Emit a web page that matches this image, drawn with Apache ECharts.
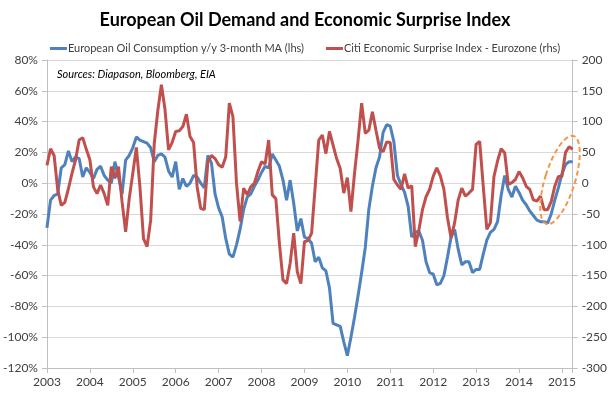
<!DOCTYPE html>
<html>
<head>
<meta charset="utf-8">
<script src="https://cdn.jsdelivr.net/npm/echarts@6/dist/echarts.min.js"></script>
<style>
  html, body { margin: 0; padding: 0; background: #fff; }
  #chart { width: 610px; height: 399px; }
</style>
</head>
<body>
<div id="chart"></div>
<script>
// monthly data, Jan 2003 .. Apr 2015
const startYear = 2003;
const yearTicks = [2003, 2004, 2005, 2006, 2007, 2008, 2009, 2010, 2011, 2012, 2013, 2014, 2015];

// European Oil Consumption y/y 3-month MA (%), left axis
const oilDemand = [
  -29, -11, -8, -7, 10, 12, 21, 14, 17, 16, 4, 10,
  7, 3, 9, 11, 5, 2, 0, 14, 4, -7, 15, 18,
  23, 30, 28, 27, 26, 23, 14, 18, 19, 17, 8, 4,
  14, -4, 3, -2, 0, 5, 4, 0, -3, 18, 13, -7,
  -16, -22, -36, -46, -48, -40, -30, -17, -9, -7, -2, 2,
  7, 11, 10, 19, 15, 11, 2, -11, 2, -13, -31, -23,
  -35, -36, -39, -51, -48, -55, -57, -68, -91, -92, -93, -103,
  -112, -100, -87, -73, -58, -42, -17, -2, 10, 17, 33, 38,
  37, 27, 5, -1, -6, -15, -35, -32, -31, -37, -51, -58,
  -59, -66, -65, -60, -48, -35, -30, -43, -53, -51, -51, -58,
  -56, -56, -46, -37, -32, -30, -25, -8, 5, -4, -9, -2,
  -6, -11, -14, -18, -21, -24, -25, -25, -26, -20, -11, -3,
  6, 12, 14, 14
];

// Citi Economic Surprise Index - Eurozone, right axis
const surprise = [
  29, 56, 45, -10, -36, -31, -9, 16, 38, 70, 74, 55,
  38, -6, -17, -3, -17, -36, 27, 8, 27, -30, -79, -25,
  16, 58, -6, -90, -103, -60, 64, 118, 160, 120, 54, 66,
  84, 85, 92, 112, 76, 66, -6, -41, -43, 35, 45, 40,
  30, 26, 43, 130, 108, 0, -62, -8, -19, -6, 0, 19,
  35, 31, 70, -19, -25, -98, -157, -163, -130, -81, -144, -163,
  -95, -93, -81, -6, 70, 78, 48, 84, 62, 40, 24, -16,
  9, -46, 16, 70, 130, 81, 86, 116, 86, 57, 51, 67,
  66, 6, -3, -10, 15, -8, -4, -103, -76, -43, -22, -10,
  11, 25, 12, -10, -56, -89, -64, -27, -8, -21, -16, -10,
  63, 68, -5, -75, -64, 11, 36, 56, 49, -2, 1, 6,
  19, 9, -5, -10, -27, -29, -21, -43, -43, -30, -5, 11,
  11, 50, 59, 55
];

const toPairs = vals => vals.map((v, i) => [startYear + i / 12, v]);
const lastX = startYear + (oilDemand.length - 1) / 12;

const textColor = '#404040';
const axisColor = '#bfbfbf';
const font = 'Lato, "Liberation Sans", sans-serif';

const chart = echarts.init(document.getElementById('chart'));
chart.setOption({
  animation: false,
  textStyle: { fontFamily: font },
  title: {
    text: 'European Oil Demand and Economic Surprise Index',
    left: 'center',
    top: 6,
    textStyle: { fontFamily: font, fontSize: 18, fontWeight: 'bold', color: '#000' }
  },
  legend: {
    top: 38,
    left: 'center',
    itemGap: 22,
    itemWidth: 17,
    itemHeight: 3,
    icon: 'rect',
    textStyle: { fontFamily: font, fontSize: 11, color: textColor, padding: [0, 0, 0, -4] },
    data: ['European Oil Consumption y/y 3-month MA (lhs)', 'Citi Economic Surprise Index - Eurozone (rhs)']
  },
  grid: { left: 43, right: 37, top: 60, bottom: 31 },
  xAxis: {
    type: 'value',
    min: startYear,
    max: lastX,
    interval: 1,
    axisLine: { onZero: false, lineStyle: { color: axisColor } },
    axisTick: { length: 5, lineStyle: { color: axisColor } },
    splitLine: { show: false },
    axisLabel: {
      color: textColor, fontSize: 12, margin: 8,
      formatter: v => yearTicks.includes(Math.round(v * 1000) / 1000) ? String(v) : ''
    }
  },
  yAxis: [
    {
      type: 'value',
      min: -120, max: 80, interval: 20,
      axisLine: { show: true, lineStyle: { color: axisColor } },
      axisTick: { show: true, length: 5, lineStyle: { color: axisColor } },
      splitLine: { lineStyle: { color: '#d9d9d9' } },
      axisLabel: { color: textColor, fontSize: 12, margin: 9, formatter: '{value}%' }
    },
    {
      type: 'value',
      min: -300, max: 200, interval: 50,
      axisLine: { show: true, lineStyle: { color: axisColor } },
      axisTick: { show: true, length: 5, lineStyle: { color: axisColor } },
      splitLine: { show: false },
      axisLabel: { color: textColor, fontSize: 12, margin: 9 }
    }
  ],
  series: [
    {
      name: 'European Oil Consumption y/y 3-month MA (lhs)',
      type: 'line',
      yAxisIndex: 0,
      data: toPairs(oilDemand),
      symbol: 'none',
      color: '#4f81bd',
      lineStyle: { width: 3, color: '#4f81bd' },
      z: 2
    },
    {
      name: 'Citi Economic Surprise Index - Eurozone (rhs)',
      type: 'line',
      yAxisIndex: 1,
      data: toPairs(surprise),
      symbol: 'none',
      color: '#c0504d',
      lineStyle: { width: 3, color: '#c0504d' },
      z: 3
    }
  ],
  graphic: [
    {
      type: 'text',
      left: 57,
      top: 69,
      style: {
        text: 'Sources: Diapason, Bloomberg, EIA',
        font: 'italic 11px ' + font,
        fill: '#000'
      }
    },
    {
      type: 'ellipse',
      shape: { cx: 0, cy: 0, rx: 15, ry: 46 },
      x: 560, y: 180,
      rotation: -0.3,
      style: { fill: 'none', stroke: '#f79646', lineWidth: 2, lineDash: [5, 3] },
      z: 10
    }
  ]
});
</script>
</body>
</html>
